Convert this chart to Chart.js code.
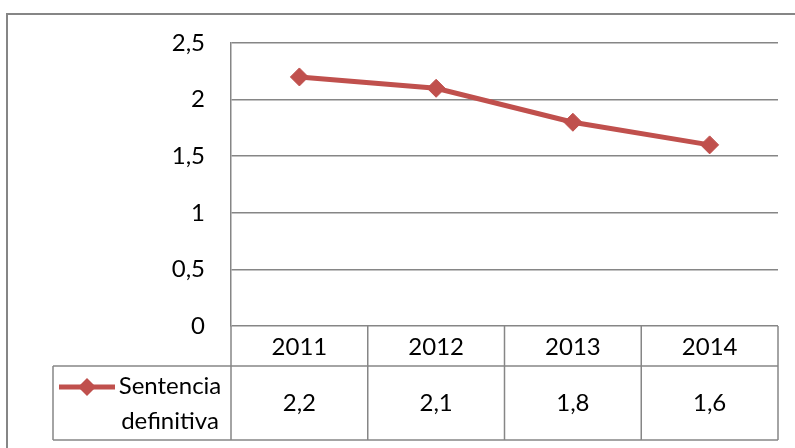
<!DOCTYPE html>
<html>
<head>
<meta charset="utf-8">
<script src="https://cdn.jsdelivr.net/npm/chart.js@4"></script>
<style>
  body { margin: 0; background: #fff; }
  #wrap { width: 795px; height: 448px; }
</style>
</head>
<body>
<div id="wrap"><canvas id="chart" width="795" height="448"></canvas></div>
<script>
const years = ['2011', '2012', '2013', '2014'];
const sentencia = [2.2, 2.1, 1.8, 1.6];
const seriesName = ['Sentencia', 'definitiva'];
const yTickLabels = ['0', '0,5', '1', '1,5', '2', '2,5'];

const FONT = 'Lato';
const FSIZE = 24;
const GRID = '#868686';
const RED = '#C0504D';

const fmt = v => String(v).replace('.', ',');

// frame + data table under the plot
const tablePlugin = {
    id: 'dataTable',
    beforeDraw(chart) {
        const ctx = chart.ctx;
        ctx.save();
        ctx.fillStyle = '#fff';
        ctx.fillRect(0, 0, chart.width, chart.height);
        ctx.strokeStyle = GRID;
        ctx.lineWidth = 2;
        ctx.strokeRect(7, 14, chart.width + 20, chart.height + 20);
        ctx.restore();
    },
    afterDraw(chart) {
        const ctx = chart.ctx;
        const x = chart.scales.x;
        const y = chart.scales.y;
        const a = chart.chartArea;
        const top = y.getPixelForValue(0);
        const mid = top + 40;
        const bot = top + 114;
        const legLeft = 53;

        const edges = [a.left];
        for (let i = 1; i < years.length; i++) {
            edges.push((x.getPixelForValue(i - 1) + x.getPixelForValue(i)) / 2);
        }
        edges.push(a.right);

        ctx.save();
        ctx.strokeStyle = GRID;
        ctx.lineWidth = 1.5;
        ctx.beginPath();
        ctx.moveTo(legLeft, mid); ctx.lineTo(a.right, mid);
        ctx.moveTo(legLeft, bot); ctx.lineTo(a.right, bot);
        ctx.moveTo(legLeft, mid); ctx.lineTo(legLeft, bot);
        edges.forEach(e => { ctx.moveTo(e, top); ctx.lineTo(e, bot); });
        ctx.stroke();

        ctx.fillStyle = '#000';
        ctx.font = FSIZE + 'px ' + FONT;
        ctx.textAlign = 'center';
        ctx.textBaseline = 'middle';
        years.forEach((yr, i) => {
            const cx = x.getPixelForValue(i);
            ctx.fillText(yr, cx, (top + mid) / 2 + 1);
            ctx.fillText(fmt(sentencia[i]), cx, (mid + bot) / 2);
        });

        // legend key inside the table
        ctx.fillText(seriesName[0], 170, mid + 20);
        ctx.fillText(seriesName[1], 170, mid + 55);
        const ds = chart.data.datasets[0];
        ctx.strokeStyle = ds.borderColor;
        ctx.lineWidth = 5;
        ctx.beginPath();
        ctx.moveTo(59, mid + 21); ctx.lineTo(115, mid + 21);
        ctx.stroke();
        ctx.fillStyle = ds.backgroundColor;
        ctx.beginPath();
        ctx.moveTo(87, mid + 12); ctx.lineTo(96, mid + 21);
        ctx.lineTo(87, mid + 30); ctx.lineTo(78, mid + 21);
        ctx.closePath();
        ctx.fill();
        ctx.restore();
    }
};

new Chart(document.getElementById('chart').getContext('2d'), {
    type: 'line',
    data: {
        labels: years,
        datasets: [{
            label: seriesName.join(' '),
            data: sentencia,
            borderColor: RED,
            backgroundColor: RED,
            borderWidth: 5,
            tension: 0,
            pointStyle: 'rectRot',
            pointRadius: 9,
            pointBorderWidth: 1
        }]
    },
    options: {
        responsive: false,
        animation: false,
        layout: { padding: { left: 0, top: 43, right: 17, bottom: 122 } },
        plugins: {
            legend: { display: false },
            tooltip: { enabled: false }
        },
        scales: {
            x: {
                display: false,
                offset: true
            },
            y: {
                min: 0,
                max: 2.5,
                afterFit: scale => { scale.width = 231; },
                grid: { color: GRID, lineWidth: 1.5, drawTicks: false },
                border: { color: GRID, width: 1.5 },
                ticks: {
                    stepSize: 0.5,
                    padding: 26,
                    color: '#000',
                    font: { family: FONT, size: FSIZE },
                    callback: (v, i) => yTickLabels[i]
                }
            }
        }
    },
    plugins: [tablePlugin]
});
</script>
</body>
</html>
